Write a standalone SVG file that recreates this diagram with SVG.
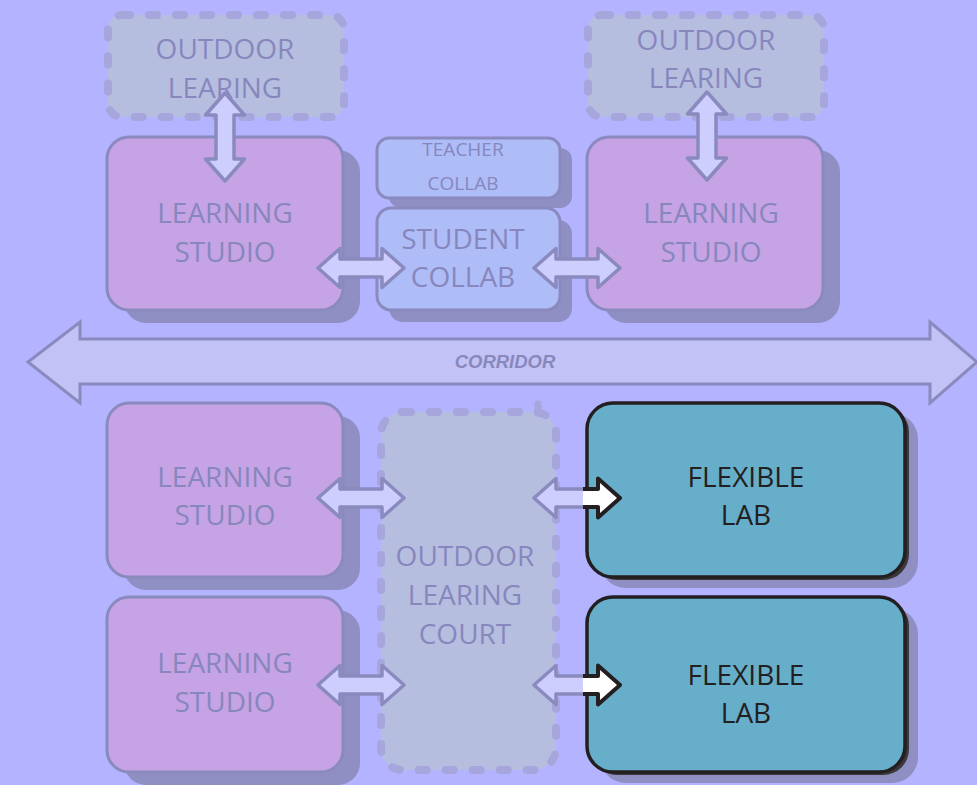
<svg xmlns="http://www.w3.org/2000/svg" width="977" height="785" viewBox="0 0 977 785">
  <style>
    .studio { fill: #c5a3e5; stroke: #8a8abf; stroke-width: 3; }
    .collab { fill: #aebcf8; stroke: #8a8abf; stroke-width: 3; }
    .shadow { fill: #8f8fc3; }
    .outdoor { fill: #b6bee0; stroke: #a6a6dd; stroke-width: 8; stroke-dasharray: 8 19; stroke-linecap: round; }
    .lab { fill: #67aecb; stroke: #231f20; stroke-width: 3.5; }
    .lbl { font-family: "Open Sans", "DejaVu Sans", sans-serif; font-size: 28px; fill: #8787bd; text-anchor: middle; }
    .small { font-size: 19px; }
    .dark { fill: #231f20; }
    .arrow { fill: #cdcdfe; stroke: #8a8abf; stroke-width: 3.5; stroke-linejoin: round; }
    .arrow-on { fill: #ffffff; stroke: #231f20; stroke-width: 4; stroke-linejoin: round; }
    .corridor { fill: #c2c2f6; stroke: #8a8abf; stroke-width: 3; stroke-linejoin: miter; }
    .corr-lbl { font-family: "Liberation Sans", Arial, sans-serif; font-weight: bold; font-style: italic; font-size: 18.5px; fill: #8888bd; text-anchor: middle; }
  </style>
  <defs>
    <!-- horizontal double arrow, centred on 0,0, spanning -43..43 -->
    <path id="dblH" d="M-43 0 L-21 -19.5 L-21 -9 L21 -9 L21 -19.5 L43 0 L21 19.5 L21 9 L-21 9 L-21 19.5 Z"/>
    <!-- vertical double arrow, centred on 0,0, spanning -44..44 -->
    <path id="dblV" d="M0 -44 L19.5 -22 L9 -22 L9 22 L19.5 22 L0 44 L-19.5 22 L-9 22 L-9 -22 L-19.5 -22 Z"/>
    <clipPath id="leftPart"><rect x="-60" y="-30" width="66" height="60"/></clipPath>
    <clipPath id="rightPart"><rect x="6" y="-30" width="60" height="60"/></clipPath>
  </defs>

  <rect width="977" height="785" fill="#b3b3ff"/>

  <!-- corridor -->
  <g id="corridor">
    <path class="corridor" d="M28 362 L80 322 L80 339 L930 339 L930 322 L977 362 L930 403 L930 384 L80 384 L80 403 Z"/>
    <text class="corr-lbl" x="505" y="368">CORRIDOR</text>
  </g>

  <!-- upper wing -->
  <g id="outdoor-1">
    <rect class="outdoor" x="108" y="15" width="236" height="102" rx="14"/>
    <text class="lbl" x="225" y="59">OUTDOOR</text>
    <text class="lbl" x="225" y="98">LEARING</text>
  </g>
  <g id="outdoor-2">
    <rect class="outdoor" x="588" y="15" width="236" height="102" rx="14"/>
    <text class="lbl" x="706" y="50">OUTDOOR</text>
    <text class="lbl" x="706" y="88">LEARING</text>
  </g>
  <g id="studio-1">
    <rect class="shadow" x="124" y="150" width="236" height="173" rx="22"/>
    <rect class="studio" x="107" y="137" width="236" height="173" rx="22"/>
    <text class="lbl" x="225" y="223">LEARNING</text>
    <text class="lbl" x="225" y="262">STUDIO</text>
  </g>
  <g id="studio-2">
    <rect class="shadow" x="604" y="150" width="236" height="173" rx="22"/>
    <rect class="studio" x="587" y="137" width="236" height="173" rx="22"/>
    <text class="lbl" x="711" y="223">LEARNING</text>
    <text class="lbl" x="711" y="262">STUDIO</text>
  </g>
  <g id="teacher-collab">
    <rect class="shadow" x="389" y="148" width="183" height="60" rx="12"/>
    <rect class="collab" x="377" y="138" width="183" height="60" rx="12"/>
    <text class="lbl small" x="463" y="156">TEACHER</text>
    <text class="lbl small" x="463" y="190">COLLAB</text>
  </g>
  <g id="student-collab">
    <rect class="shadow" x="389" y="220" width="183" height="102" rx="14"/>
    <rect class="collab" x="377" y="208" width="183" height="102" rx="14"/>
    <text class="lbl" x="463" y="249">STUDENT</text>
    <text class="lbl" x="463" y="287">COLLAB</text>
  </g>

  <!-- lower wing -->
  <g id="studio-3">
    <rect class="shadow" x="124" y="416" width="236" height="174" rx="22"/>
    <rect class="studio" x="107" y="403" width="236" height="174" rx="22"/>
    <text class="lbl" x="225" y="487">LEARNING</text>
    <text class="lbl" x="225" y="525">STUDIO</text>
  </g>
  <g id="studio-4">
    <rect class="shadow" x="124" y="610" width="236" height="175" rx="22"/>
    <rect class="studio" x="107" y="597" width="236" height="175" rx="22"/>
    <text class="lbl" x="225" y="673">LEARNING</text>
    <text class="lbl" x="225" y="712">STUDIO</text>
  </g>
  <g id="outdoor-court">
    <rect class="outdoor" x="381" y="412" width="175" height="358" rx="22"/>
    <line x1="538" y1="404" x2="538" y2="413" stroke="#a6a6dd" stroke-width="7" stroke-linecap="round"/>
    <text class="lbl" x="465" y="566">OUTDOOR</text>
    <text class="lbl" x="465" y="605">LEARING</text>
    <text class="lbl" x="465" y="644">COURT</text>
  </g>
  <g id="lab-1">
    <rect class="shadow" x="600" y="413" width="318" height="175" rx="26"/>
    <rect x="591" y="406" width="318" height="174" rx="26" fill="#3a3838"/>
    <rect class="lab" x="587" y="403" width="318" height="174" rx="26"/>
    <text class="lbl dark" x="746" y="487">FLEXIBLE</text>
    <text class="lbl dark" x="746" y="525">LAB</text>
  </g>
  <g id="lab-2">
    <rect class="shadow" x="600" y="608" width="318" height="175" rx="26"/>
    <rect x="591" y="600" width="318" height="175" rx="26" fill="#3a3838"/>
    <rect class="lab" x="587" y="597" width="318" height="175" rx="26"/>
    <text class="lbl dark" x="746" y="685">FLEXIBLE</text>
    <text class="lbl dark" x="746" y="723">LAB</text>
  </g>

  <!-- connectors -->
  <g id="connectors">
    <use href="#dblV" class="arrow" x="225" y="137"/>
    <use href="#dblV" class="arrow" x="707" y="136"/>
    <use href="#dblH" class="arrow" x="361" y="268"/>
    <use href="#dblH" class="arrow" x="577" y="268"/>
    <use href="#dblH" class="arrow" x="361" y="498"/>
    <use href="#dblH" class="arrow" x="361" y="685"/>
    <g transform="translate(577 498)">
      <use href="#dblH" class="arrow" clip-path="url(#leftPart)"/>
      <use href="#dblH" class="arrow-on" clip-path="url(#rightPart)"/>
    </g>
    <g transform="translate(577 685)">
      <use href="#dblH" class="arrow" clip-path="url(#leftPart)"/>
      <use href="#dblH" class="arrow-on" clip-path="url(#rightPart)"/>
    </g>
  </g>
</svg>
